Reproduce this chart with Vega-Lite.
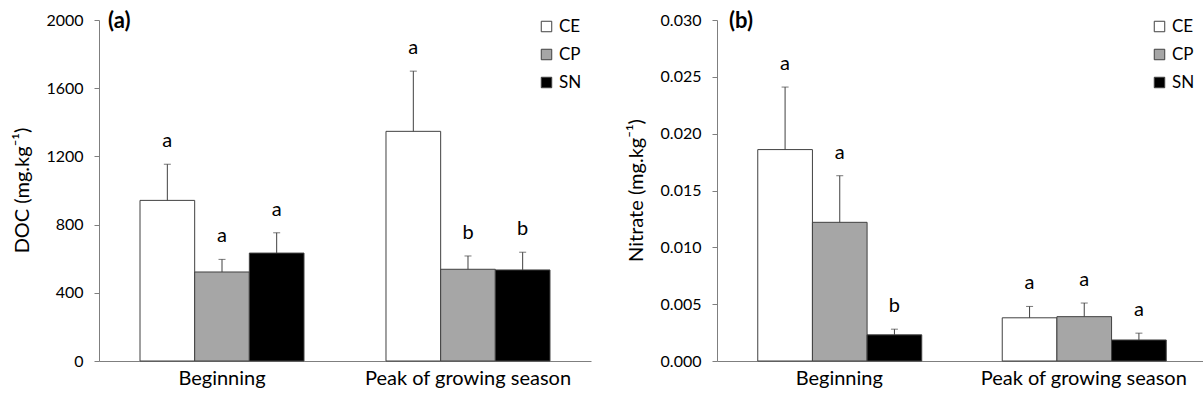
{
  "$schema": "https://vega.github.io/schema/vega-lite/v6.json",
  "padding": {"left": 12, "top": 10, "right": 0, "bottom": 0},
  "background": "white",
  "bounds": "flush",
  "spacing": 126,
  "datasets": {
    "rows": [
      {"panel": "a", "period": "Beginning", "treatment": "CE", "value": 942, "err": 1154, "letter": "a"},
      {"panel": "a", "period": "Beginning", "treatment": "CP", "value": 522, "err": 596, "letter": "a"},
      {"panel": "a", "period": "Beginning", "treatment": "SN", "value": 633, "err": 752, "letter": "a"},
      {"panel": "a", "period": "Peak of growing season", "treatment": "CE", "value": 1347, "err": 1700, "letter": "a"},
      {"panel": "a", "period": "Peak of growing season", "treatment": "CP", "value": 538, "err": 616, "letter": "b"},
      {"panel": "a", "period": "Peak of growing season", "treatment": "SN", "value": 534, "err": 638, "letter": "b"},
      {"panel": "b", "period": "Beginning", "treatment": "CE", "value": 0.0186, "err": 0.0241, "letter": "a"},
      {"panel": "b", "period": "Beginning", "treatment": "CP", "value": 0.0122, "err": 0.0163, "letter": "a"},
      {"panel": "b", "period": "Beginning", "treatment": "SN", "value": 0.0023, "err": 0.0028, "letter": "b"},
      {"panel": "b", "period": "Peak of growing season", "treatment": "CE", "value": 0.0038, "err": 0.0048, "letter": "a"},
      {"panel": "b", "period": "Peak of growing season", "treatment": "CP", "value": 0.0039, "err": 0.0051, "letter": "a"},
      {"panel": "b", "period": "Peak of growing season", "treatment": "SN", "value": 0.00185, "err": 0.00245, "letter": "a"}
    ]
  },
  "resolve": {"scale": {"y": "independent", "fill": "independent"}, "legend": {"fill": "independent"}},
  "hconcat": [
    {
      "width": 492,
      "height": 341,
      "title": {"text": "(a)", "anchor": "start", "frame": "group", "dx": 9, "offset": -21, "fontSize": 22, "fontWeight": "bold", "color": "black"},
      "data": {"name": "rows"},
      "transform": [{"filter": "datum.panel === 'a'"}],
      "encoding": {
        "x": {"field": "period", "type": "nominal", "sort": ["Beginning", "Peak of growing season"],
              "scale": {"paddingInner": 0.3333, "paddingOuter": 0.1667},
              "axis": {"title": null, "labelAngle": 0, "ticks": false, "labelFontSize": 20, "labelPadding": 7, "labelLimit": 0}},
        "xOffset": {"field": "treatment", "type": "nominal", "sort": ["CE", "CP", "SN"], "scale": {"paddingInner": 0, "paddingOuter": 0}}
      },
      "layer": [
        {
          "mark": {"type": "bar", "stroke": "#404040", "strokeWidth": 1},
          "encoding": {
            "y": {"field": "value", "type": "quantitative", "scale": {"domain": [0, 2000], "nice": false},
                  "axis": {"title": "DOC (mg.kg⁻¹)", "format": "d", "values": [0, 400, 800, 1200, 1600, 2000], "titleX": -77, "titleY": 170, "titleAngle": -90, "titleBaseline": "middle", "titleAlign": "center"}},
            "fill": {"field": "treatment", "type": "nominal", "sort": ["CE", "CP", "SN"],
                     "scale": {"domain": ["CE", "CP", "SN"], "range": ["#ffffff", "#a6a6a6", "#000000"]},
                     "legend": {"title": null, "orient": "none", "legendX": 439, "legendY": -2}}
          }
        },
        {
          "mark": {"type": "rule", "color": "#404040", "strokeWidth": 1},
          "encoding": {"y": {"field": "value", "type": "quantitative"}, "y2": {"field": "err"}}
        },
        {
          "mark": {"type": "tick", "color": "#404040", "size": 7, "thickness": 1},
          "encoding": {"y": {"field": "err", "type": "quantitative"}}
        },
        {
          "mark": {"type": "text", "dy": -23, "fontSize": 20, "baseline": "middle", "color": "black"},
          "encoding": {"y": {"field": "err", "type": "quantitative"}, "text": {"field": "letter"}}
        }
      ]
    },
    {
      "width": 489,
      "height": 341,
      "title": {"text": "(b)", "anchor": "start", "frame": "group", "dx": 12, "offset": -21, "fontSize": 22, "fontWeight": "bold", "color": "black"},
      "data": {"name": "rows"},
      "transform": [{"filter": "datum.panel === 'b'"}],
      "encoding": {
        "x": {"field": "period", "type": "nominal", "sort": ["Beginning", "Peak of growing season"],
              "scale": {"paddingInner": 0.3333, "paddingOuter": 0.1667},
              "axis": {"title": null, "labelAngle": 0, "ticks": false, "labelFontSize": 20, "labelPadding": 7, "labelLimit": 0}},
        "xOffset": {"field": "treatment", "type": "nominal", "sort": ["CE", "CP", "SN"], "scale": {"paddingInner": 0, "paddingOuter": 0}}
      },
      "layer": [
        {
          "mark": {"type": "bar", "stroke": "#404040", "strokeWidth": 1},
          "encoding": {
            "y": {"field": "value", "type": "quantitative", "scale": {"domain": [0, 0.03], "nice": false},
                  "axis": {"title": "Nitrate (mg.kg⁻¹)", "format": ".3f", "values": [0, 0.005, 0.01, 0.015, 0.02, 0.025, 0.03], "titleX": -81, "titleY": 170, "titleAngle": -90, "titleBaseline": "middle", "titleAlign": "center"}},
            "fill": {"field": "treatment", "type": "nominal", "sort": ["CE", "CP", "SN"],
                     "scale": {"domain": ["CE", "CP", "SN"], "range": ["#ffffff", "#a6a6a6", "#000000"]},
                     "legend": {"title": null, "orient": "none", "legendX": 434, "legendY": -2}}
          }
        },
        {
          "mark": {"type": "rule", "color": "#404040", "strokeWidth": 1},
          "encoding": {"y": {"field": "value", "type": "quantitative"}, "y2": {"field": "err"}}
        },
        {
          "mark": {"type": "tick", "color": "#404040", "size": 7, "thickness": 1},
          "encoding": {"y": {"field": "err", "type": "quantitative"}}
        },
        {
          "mark": {"type": "text", "dy": -23, "fontSize": 20, "baseline": "middle", "color": "black"},
          "encoding": {"y": {"field": "err", "type": "quantitative"}, "text": {"field": "letter"}}
        }
      ]
    }
  ],
  "config": {
    "font": "Lato",
    "view": {"stroke": null},
    "axis": {"domainColor": "#7f7f7f", "tickColor": "#7f7f7f", "labelColor": "black", "titleColor": "black", "grid": false, "labelFont": "Lato", "titleFont": "Lato", "titleFontWeight": "normal"},
    "axisY": {"tickSize": 5, "labelFontSize": 16, "labelPadding": 11, "titleFontSize": 20},
    "legend": {"symbolType": "square", "symbolSize": 110, "symbolStrokeColor": "#404040", "symbolStrokeWidth": 1, "labelFontSize": 17, "labelFont": "Lato", "labelColor": "black", "rowPadding": 10, "labelOffset": 4, "padding": 0},
    "title": {"font": "Lato"}
  }
}
